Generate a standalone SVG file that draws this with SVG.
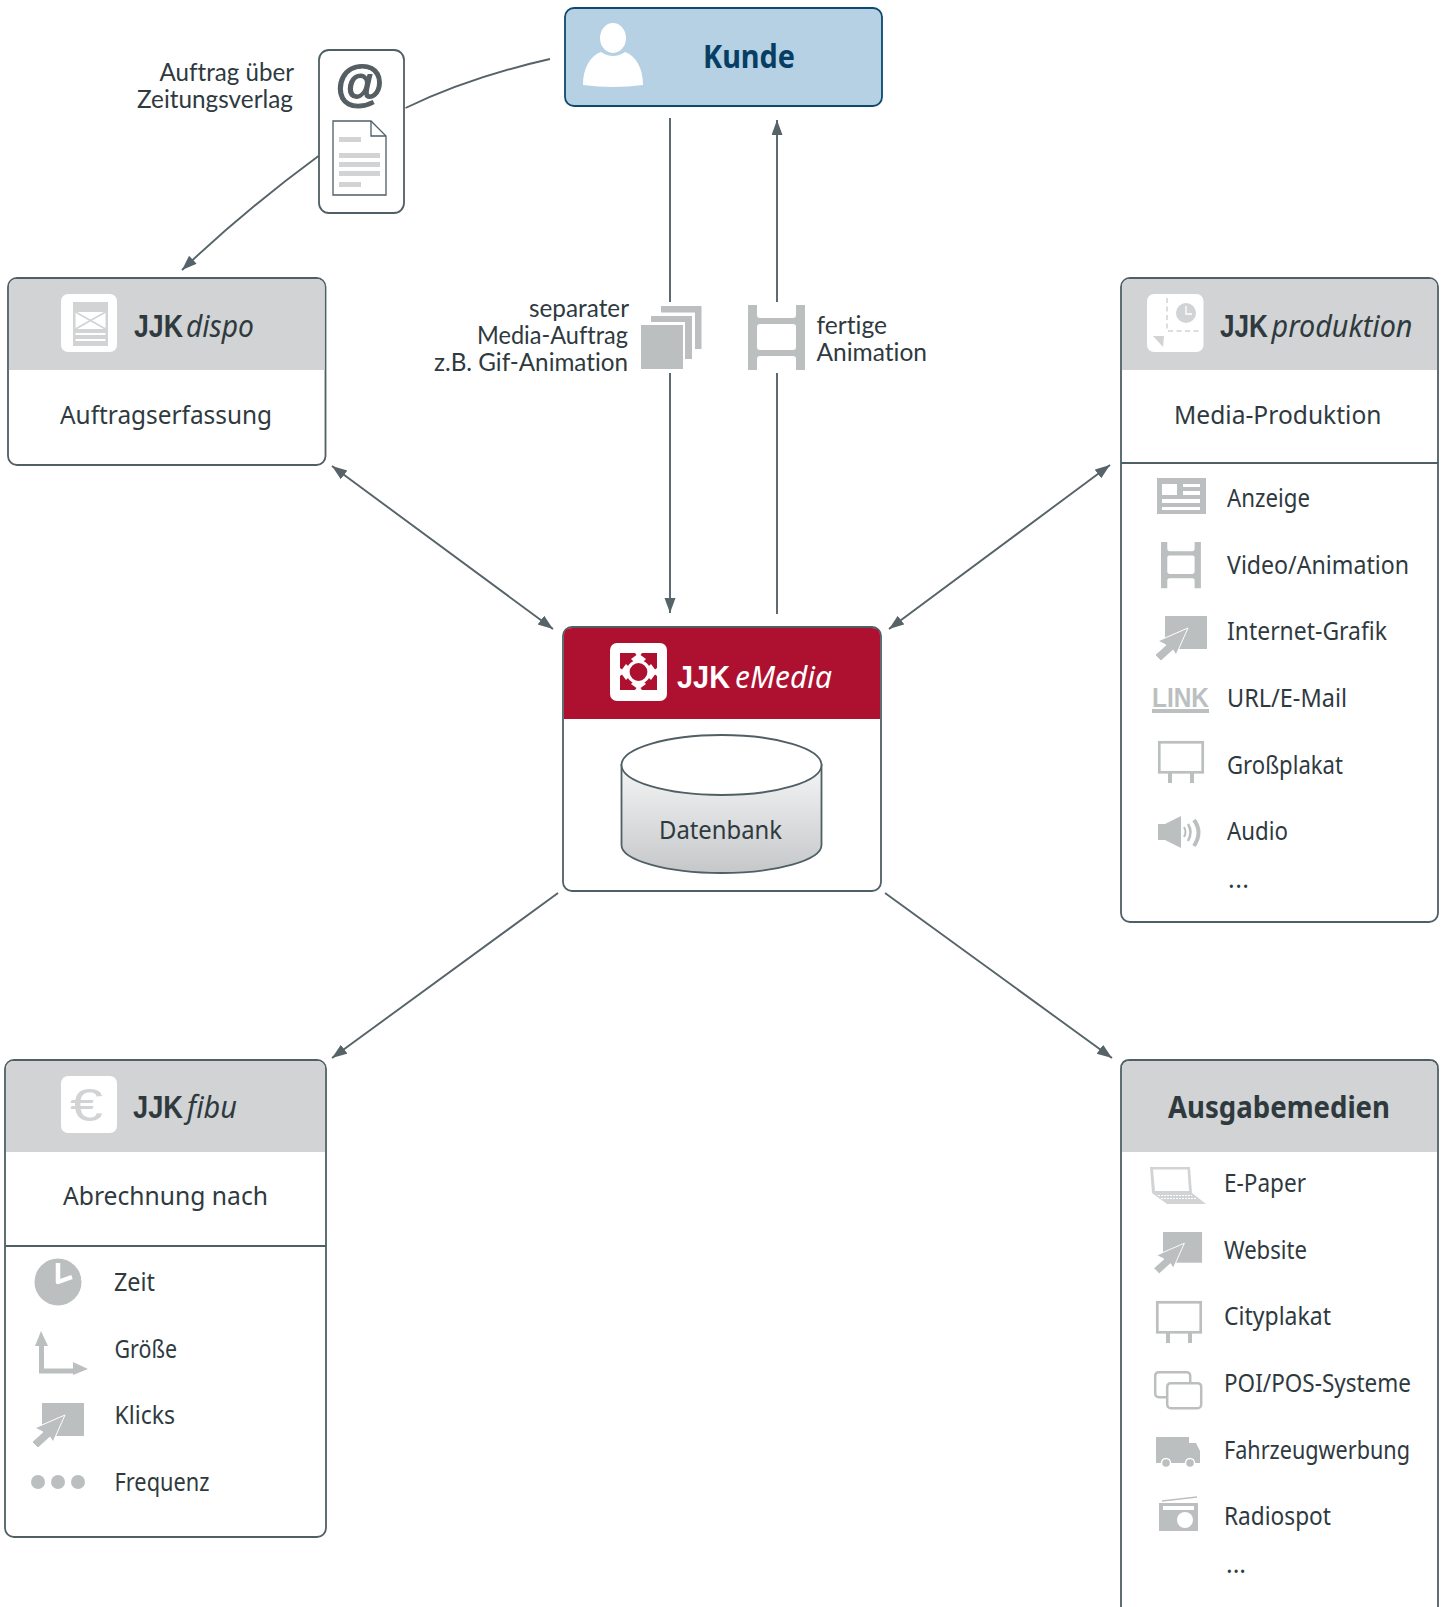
<svg xmlns="http://www.w3.org/2000/svg" width="1450" height="1607" viewBox="0 0 1450 1607">
<style>
text{font-family:"Noto Sans",Lato,"Liberation Sans",sans-serif;fill:#2f3a3f;font-size:25px;font-variant-ligatures:none}
.l{font-family:Lato,"Noto Sans",sans-serif}
.b{font-weight:700}
.h{font-weight:700;font-size:30px}
.j{font-family:"Liberation Sans",Arial,sans-serif;font-weight:700;font-size:31px}
.i{font-style:italic;font-size:30px}
.w{fill:#fff}
.box{fill:#fff;stroke:#4f5f65;stroke-width:1.8}
.top{fill:#d1d3d4}
.ln{fill:none;stroke:#4f5f65;stroke-width:1.8}
.con{fill:none;stroke:#566368;stroke-width:1.9}
.g{fill:#bcbfc0}
.gl{fill:#d1d3d4}
.gs{fill:none;stroke:#bcbfc0}
</style>
<defs>
<marker id="a" markerUnits="userSpaceOnUse" markerWidth="16" markerHeight="12" refX="15" refY="5.500" orient="auto-start-reverse"><path d="M0 0L15 5.500L0 11Z" fill="#566368"/></marker>
<linearGradient id="cyl" x1="0" y1="0" x2="0" y2="1"><stop offset="0" stop-color="#f4f5f5"/><stop offset="1" stop-color="#c6c7c9"/></linearGradient>
<g id="click"><rect width="42" height="33" class="g"/><path d="M23 12L-7 25L1 29L-10 39L-4 45L8 34L11 39Z" fill="#bcbfc0" stroke="#fff" stroke-width="1"/></g>
<path id="film" fill-rule="evenodd" d="M0 0H9V10Q9 13 12 13H45Q48 13 48 10V0H57V65H48V54Q48 51 45 51H12Q9 51 9 54V65H0ZM12 19Q9 19 9 22V42Q9 45 12 45H45Q48 45 48 42V22Q48 19 45 19Z"/>
<g id="plakat"><rect x="1.300" y="1.300" width="43.400" height="30" fill="#fff" stroke="#bcbfc0" stroke-width="2.700"/><rect x="10" y="32" width="4" height="10" class="g"/><rect x="32" y="32" width="4" height="10" class="g"/></g>
</defs>

<g id="connectors">
<path class="con" d="M550 59Q470 77 405.500 108"/>
<path class="con" marker-end="url(#a)" d="M318.500 156Q245 210 182 270"/>
<path class="con" d="M670 118V302"/>
<path class="con" marker-end="url(#a)" d="M670 373V613"/>
<path class="con" marker-end="url(#a)" d="M777 302V120"/>
<path class="con" d="M777 614V373"/>
<path class="con" marker-start="url(#a)" marker-end="url(#a)" d="M332 466L553 629"/>
<path class="con" marker-start="url(#a)" marker-end="url(#a)" d="M1110 465L889 629"/>
<path class="con" marker-end="url(#a)" d="M558 893L332 1058"/>
<path class="con" marker-end="url(#a)" d="M885 893L1112 1058"/>
</g>

<g id="kunde">
<rect x="565" y="8" width="317" height="98" rx="9" fill="#b5d1e3" stroke="#0d4a70" stroke-width="1.800"/>
<ellipse cx="613" cy="38" rx="13" ry="15" fill="#fff"/>
<path d="M583 85C583 68 590 56 601 52Q613 60 625 52C636 56 643 68 643 85Q613 89 583 85Z" fill="#fff"/>
<text class="b" x="703" y="68" style="font-size:32px;fill:#063f63" textLength="92" lengthAdjust="spacingAndGlyphs">Kunde</text>
</g>

<g id="auftrag-verlag">
<text class="l" x="159.500" y="81" textLength="134.500" lengthAdjust="spacingAndGlyphs">Auftrag über</text>
<text class="l" x="137" y="108" textLength="156" lengthAdjust="spacingAndGlyphs">Zeitungsverlag</text>
<rect x="319" y="50" width="85" height="163" rx="10" class="box"/>
<text x="360" y="101" text-anchor="middle" style="font-family:'Liberation Sans',sans-serif;font-size:50px;font-weight:700;fill:#555f63;stroke:#555f63;stroke-width:1.200">@</text>
<path d="M333 121H371L386 136V195H333Z" fill="#fff" stroke="#4f5f65" stroke-width="1.300"/>
<path d="M371 121V136H386" fill="none" stroke="#4f5f65" stroke-width="1.300"/>
<path class="gl" d="M339 137H361V142H339ZM339 153H380V158H339ZM339 162H380V167H339ZM339 171H380V176H339ZM339 182H361V187H339Z"/>
</g>

<g id="jjkdispo">
<rect x="8" y="278" width="317.500" height="187" rx="9" class="box"/>
<path class="top" d="M9 370V287Q9 279 17 279H316Q324.600 279 324.600 287V370Z"/>
<rect x="61" y="294" width="56" height="58" rx="7" fill="#fff"/>
<rect x="73" y="302" width="35" height="44" class="gl"/>
<rect x="75.500" y="312" width="30" height="17" fill="#fff"/>
<path d="M75.500 312L105.500 329M105.500 312L75.500 329" stroke="#d1d3d4" stroke-width="1.500"/>
<path d="M75.500 334H105.500M75.500 340H105.500" stroke="#fff" stroke-width="2"/>
<text class="j" x="134" y="337" textLength="49" lengthAdjust="spacingAndGlyphs">JJK</text>
<text class="i" x="186" y="337" textLength="68" lengthAdjust="spacingAndGlyphs">dispo</text>
<text x="60" y="424" style="font-size:26px" textLength="212" lengthAdjust="spacingAndGlyphs">Auftragserfassung</text>
</g>

<g id="medien-auftrag">
<path class="g" d="M661 306H701.500V349H695V312.500H661Z"/>
<path class="g" d="M651 316H692V359H685V322H651Z"/>
<rect x="641" y="325" width="42" height="44" class="g"/>
<text class="l" x="529" y="317" textLength="100" lengthAdjust="spacingAndGlyphs">separater</text>
<text class="l" x="477" y="344" textLength="151" lengthAdjust="spacingAndGlyphs">Media-Auftrag</text>
<text class="l" x="434" y="371" textLength="194" lengthAdjust="spacingAndGlyphs">z.B. Gif-Animation</text>
</g>

<g id="animation">
<use href="#film" x="748" y="305" class="g"/>
<text class="l" x="816.500" y="334" textLength="70.500" lengthAdjust="spacingAndGlyphs">fertige</text>
<text class="l" x="816.500" y="361" textLength="110.500" lengthAdjust="spacingAndGlyphs">Animation</text>
</g>

<g id="jjkproduktion">
<rect x="1121" y="278" width="317" height="644" rx="9" class="box"/>
<path class="top" d="M1122 370V287Q1122 279 1130 279H1429Q1437 279 1437 287V370Z"/>
<path class="ln" d="M1121 463H1438"/>
<rect x="1147" y="294" width="56.500" height="58" rx="7" fill="#fff"/>
<circle cx="1186" cy="313" r="10" class="gl"/>
<path d="M1186 306V314H1192" fill="none" stroke="#fff" stroke-width="1.300"/>
<path d="M1167 298V331H1199" fill="none" stroke="#d1d3d4" stroke-width="1.500" stroke-dasharray="5 3.500"/>
<path d="M1153 336H1164L1163 347Z" class="gl"/>
<text class="j" x="1220" y="337" textLength="48" lengthAdjust="spacingAndGlyphs">JJK</text>
<text class="i" x="1271.500" y="337" textLength="141" lengthAdjust="spacingAndGlyphs">produktion</text>
<text x="1174" y="424" style="font-size:26px" textLength="207.500" lengthAdjust="spacingAndGlyphs">Media-Produktion</text>

<path class="g" fill-rule="evenodd" d="M1157 478H1206V514H1157ZM1162 484V495H1177V484ZM1183 484V487H1200V484ZM1183 491V495H1200V491ZM1162 499V503H1200V499ZM1162 507V510H1200V507Z"/>
<use href="#film" class="g" transform="translate(1161 542) scale(.7 .71)"/>
<use href="#click" x="1165" y="616"/>
<text x="1152" y="707" textLength="57" lengthAdjust="spacingAndGlyphs" style="font-family:'Liberation Sans',sans-serif;font-weight:700;font-size:27px;fill:#bcbfc0">LINK</text>
<rect x="1152" y="709" width="57" height="4" class="g"/>
<use href="#plakat" x="1158" y="741"/>
<path class="g" d="M1158 824H1165L1181 816V848L1165 840H1158Z"/>
<path class="gs" stroke-width="2" d="M1184 827Q1187 832 1184 837"/>
<path class="gs" stroke-width="2.500" d="M1188 824Q1193 832 1188 841"/>
<path class="gs" stroke-width="4" d="M1194 820Q1203 832 1194 846"/>

<text x="1227" y="507" textLength="83" lengthAdjust="spacingAndGlyphs">Anzeige</text>
<text x="1227" y="574" textLength="182" lengthAdjust="spacingAndGlyphs">Video/Animation</text>
<text x="1227" y="640" textLength="160" lengthAdjust="spacingAndGlyphs">Internet-Grafik</text>
<text x="1227" y="707" textLength="120" lengthAdjust="spacingAndGlyphs">URL/E-Mail</text>
<text x="1227" y="774" textLength="116" lengthAdjust="spacingAndGlyphs">Großplakat</text>
<text x="1227" y="840" textLength="61" lengthAdjust="spacingAndGlyphs">Audio</text>
<text x="1228" y="888" textLength="21" lengthAdjust="spacing">...</text>
</g>

<g id="jjkemedia">
<rect x="563" y="627" width="318" height="264" rx="9" class="box"/>
<path d="M564 719V636Q564 628 572 628H872Q880 628 880 636V719Z" fill="#ae1030"/>
<rect x="610" y="643" width="57" height="58" rx="7" fill="#fff"/>
<rect x="620" y="653" width="37" height="37" fill="#ae1030"/>
<path fill="#fff" d="M635 653H642L640.500 655L646 659L642 663H635L631 659L636.500 655ZM635 690H642L640.500 688L646 684L642 680H635L631 684L636.500 688ZM620 668V676L622 674.500L626 680L630 676V668L626 664L622 669.500ZM657 668V676L655 674.500L651 680L647 676V668L651 664L655 669.500Z"/>
<circle cx="638.500" cy="672" r="10.500" fill="#ae1030" stroke="#fff" stroke-width="3.200"/>
<text class="j w" x="677" y="688" textLength="53" lengthAdjust="spacingAndGlyphs">JJK</text>
<text class="i w" x="735" y="688" textLength="97" lengthAdjust="spacingAndGlyphs">eMedia</text>
<path d="M621.500 765V845C621.500 860 666 873 721.500 873S821.500 860 821.500 845V765Z" fill="url(#cyl)" stroke="#4f5f65" stroke-width="1.800"/>
<ellipse cx="721.500" cy="765" rx="100" ry="30" fill="#fff" stroke="#4f5f65" stroke-width="1.800"/>
<text x="659" y="839" textLength="123" lengthAdjust="spacingAndGlyphs">Datenbank</text>
</g>

<g id="jjkfibu">
<rect x="5" y="1060" width="321" height="477" rx="9" class="box"/>
<path class="top" d="M6 1152V1069Q6 1061 14 1061H317Q325 1061 325 1069V1152Z"/>
<path class="ln" d="M5 1246H326"/>
<rect x="61" y="1076" width="56" height="57" rx="7" fill="#fff"/>
<text x="70" y="1121" textLength="33" lengthAdjust="spacingAndGlyphs" style="font-family:'Liberation Sans',sans-serif;font-size:46px;fill:#d1d3d4">€</text>
<text class="j" x="133" y="1118" textLength="50" lengthAdjust="spacingAndGlyphs">JJK</text>
<text class="i" x="187" y="1118" textLength="50" lengthAdjust="spacingAndGlyphs">fibu</text>
<text x="63" y="1205" style="font-size:26px" textLength="205" lengthAdjust="spacingAndGlyphs">Abrechnung nach</text>
<circle cx="58" cy="1282" r="23.500" class="g"/>
<path d="M58 1263V1282L72 1277" fill="none" stroke="#fff" stroke-width="4.500" stroke-linejoin="round"/>
<path d="M41.500 1345V1371H75" fill="none" stroke="#bcbfc0" stroke-width="5"/>
<path class="g" d="M41 1331L48 1346H35ZM88 1369L73 1362V1375Z"/>
<use href="#click" x="42" y="1403"/>
<circle cx="38" cy="1482" r="7" class="g"/><circle cx="58" cy="1482" r="7" class="g"/><circle cx="78" cy="1482" r="7" class="g"/>
<text x="114" y="1291" textLength="41" lengthAdjust="spacingAndGlyphs">Zeit</text>
<text x="114.500" y="1358" textLength="62.500" lengthAdjust="spacingAndGlyphs">Größe</text>
<text x="114.500" y="1424" textLength="60.500" lengthAdjust="spacingAndGlyphs">Klicks</text>
<text x="114.500" y="1491" textLength="95" lengthAdjust="spacingAndGlyphs">Frequenz</text>
</g>

<g id="ausgabemedien">
<path class="box" d="M1121 1620V1069Q1121 1060 1130 1060H1429Q1438 1060 1438 1069V1620"/>
<path class="top" d="M1122 1152V1069Q1122 1061 1130 1061H1429Q1437 1061 1437 1069V1152Z"/>
<text class="h" x="1168" y="1117.500" textLength="222" lengthAdjust="spacingAndGlyphs">Ausgabemedien</text>
<path class="gl" fill-rule="evenodd" d="M1150 1167H1190L1192 1193L1206 1204H1167L1152 1193ZM1153 1169.500L1155 1191H1189L1187.500 1169.500Z"/>
<path d="M1158 1195.500H1192M1161 1198.500H1196" stroke="#fff" stroke-width="1.200" stroke-dasharray="2 1"/>
<use href="#click" transform="translate(1163 1232) scale(.93)"/>
<use href="#plakat" x="1156" y="1301"/>
<rect x="1155.200" y="1372.200" width="35" height="25" rx="3.500" fill="#fff" stroke="#bcbfc0" stroke-width="2.500"/>
<rect x="1167.200" y="1383.200" width="34" height="25" rx="3.500" fill="#fff" stroke="#bcbfc0" stroke-width="2.500"/>
<path class="g" d="M1156 1437H1189V1443H1196L1200 1451V1463H1156Z"/>
<circle cx="1166" cy="1463" r="4.500" class="g" stroke="#fff" stroke-width="1.500"/>
<circle cx="1190" cy="1463" r="4.500" class="g" stroke="#fff" stroke-width="1.500"/>
<path class="g" fill-rule="evenodd" d="M1159 1503H1198V1531H1159ZM1163 1506V1510H1194V1506Z"/>
<circle cx="1185" cy="1520" r="8" fill="#fff"/>
<path class="gs" stroke-width="1.300" d="M1162 1501L1197 1497"/>
<text x="1224" y="1192" textLength="82" lengthAdjust="spacingAndGlyphs">E-Paper</text>
<text x="1224" y="1258.500" textLength="83" lengthAdjust="spacingAndGlyphs">Website</text>
<text x="1224" y="1325" textLength="107" lengthAdjust="spacingAndGlyphs">Cityplakat</text>
<text x="1224" y="1392" textLength="187" lengthAdjust="spacingAndGlyphs">POI/POS-Systeme</text>
<text x="1224" y="1458.500" textLength="186" lengthAdjust="spacingAndGlyphs">Fahrzeugwerbung</text>
<text x="1224" y="1525" textLength="107" lengthAdjust="spacingAndGlyphs">Radiospot</text>
<text x="1226" y="1573" textLength="20" lengthAdjust="spacing">...</text>
</g>
</svg>
